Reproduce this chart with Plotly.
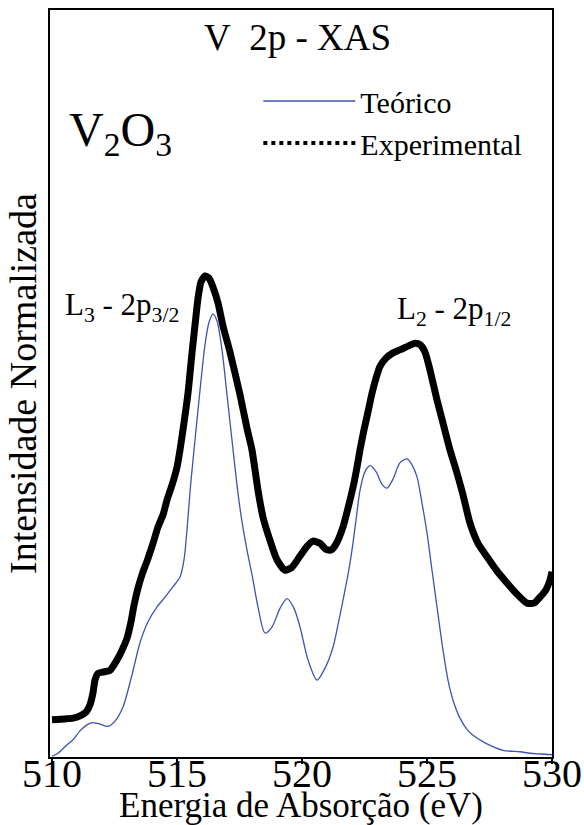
import plotly.graph_objects as go

# Theoretical spectrum (energy in eV, normalized intensity)
teo_energy = [510.00, 510.24, 510.56, 510.84, 511.12, 511.40, 511.60, 511.92, 512.24, 512.52,
              512.84, 513.20, 513.52, 513.84, 514.20, 514.52, 514.84, 515.12, 515.28, 515.40,
              515.52, 515.68, 515.92, 516.12, 516.28, 516.44, 516.60, 516.80, 517.00, 517.20,
              517.44, 517.60, 517.80, 518.00, 518.24, 518.52, 518.80, 519.12, 519.40, 519.68,
              519.92, 520.24, 520.60, 520.92, 521.24, 521.44, 521.64, 521.84, 522.00, 522.16,
              522.32, 522.52, 522.72, 522.96, 523.20, 523.40, 523.64, 523.92, 524.20, 524.40,
              524.60, 524.80, 525.00, 525.20, 525.40, 525.64, 525.84, 526.04, 526.32, 526.60,
              526.84, 527.32, 528.04, 528.72, 529.12, 529.60, 530.00]
teo_intensity = [0.001, 0.005, 0.015, 0.023, 0.035, 0.043, 0.046, 0.044, 0.041, 0.048,
                 0.067, 0.110, 0.153, 0.181, 0.201, 0.214, 0.228, 0.241, 0.264, 0.304,
                 0.355, 0.411, 0.491, 0.552, 0.582, 0.593, 0.584, 0.545, 0.485, 0.424,
                 0.353, 0.315, 0.277, 0.244, 0.201, 0.166, 0.174, 0.199, 0.212, 0.199,
                 0.174, 0.130, 0.103, 0.119, 0.147, 0.177, 0.210, 0.244, 0.277, 0.317,
                 0.357, 0.382, 0.390, 0.382, 0.365, 0.360, 0.372, 0.394, 0.399, 0.391,
                 0.375, 0.340, 0.300, 0.250, 0.201, 0.143, 0.103, 0.076, 0.052, 0.037,
                 0.029, 0.019, 0.009, 0.007, 0.005, 0.004, 0.003]

# Experimental spectrum
exp_energy = [510.00, 510.52, 510.84, 511.12, 511.36, 511.52, 511.64, 511.72, 511.84, 512.08,
              512.32, 512.60, 512.80, 513.00, 513.16, 513.28, 513.44, 513.60, 513.84, 514.04,
              514.24, 514.44, 514.60, 514.80, 515.00, 515.12, 515.24, 515.44, 515.60, 515.72,
              515.84, 515.96, 516.12, 516.28, 516.44, 516.64, 516.84, 517.12, 517.52, 517.80,
              518.00, 518.24, 518.44, 518.72, 519.00, 519.32, 519.60, 519.92, 520.20, 520.44,
              520.72, 520.96, 521.16, 521.36, 521.64, 521.92, 522.08, 522.20, 522.32, 522.48,
              522.64, 522.80, 522.96, 523.12, 523.36, 523.64, 523.92, 524.24, 524.52, 524.72,
              524.92, 525.12, 525.40, 525.64, 525.92, 526.20, 526.44, 526.72, 527.04, 527.40,
              527.80, 528.20, 528.60, 529.00, 529.28, 529.52, 529.76, 529.92, 530.00]
exp_intensity = [0.050, 0.051, 0.052, 0.055, 0.060, 0.070, 0.086, 0.103, 0.112, 0.114,
                 0.116, 0.130, 0.143, 0.159, 0.181, 0.203, 0.226, 0.244, 0.266, 0.286,
                 0.308, 0.324, 0.344, 0.364, 0.388, 0.411, 0.438, 0.487, 0.541, 0.578,
                 0.614, 0.636, 0.644, 0.641, 0.629, 0.608, 0.577, 0.542, 0.485, 0.440,
                 0.411, 0.357, 0.321, 0.290, 0.264, 0.250, 0.254, 0.269, 0.282, 0.289,
                 0.286, 0.278, 0.277, 0.285, 0.308, 0.344, 0.367, 0.388, 0.411, 0.438,
                 0.462, 0.487, 0.507, 0.523, 0.534, 0.541, 0.545, 0.550, 0.554, 0.552,
                 0.542, 0.518, 0.478, 0.447, 0.411, 0.380, 0.351, 0.313, 0.286, 0.268,
                 0.249, 0.233, 0.218, 0.206, 0.206, 0.214, 0.224, 0.237, 0.248]

x_ticks = [510, 515, 520, 525, 530]
x_ticktext = ["510", "515", "520", "525", "530"]

SERIF = "Liberation Serif, Times New Roman, serif"

fig = go.Figure()
fig.add_trace(go.Scatter(x=teo_energy, y=teo_intensity, mode="lines", name="Teórico",
                         line=dict(color="#3f51b5", width=1.3, shape="spline", smoothing=0.8)))
fig.add_trace(go.Scatter(x=exp_energy, y=exp_intensity, mode="lines", name="Experimental",
                         showlegend=False,
                         line=dict(color="black", width=7, shape="spline", smoothing=0.6)))
# legend entry for the experimental data (dotted style as in the reference legend)
fig.add_trace(go.Scatter(x=[None], y=[None], mode="lines", name="Experimental",
                         line=dict(color="black", width=4, dash="dot")))

fig.update_layout(
    width=584, height=825,
    margin=dict(l=50, r=32, t=10, b=68),
    paper_bgcolor="white", plot_bgcolor="white",
    font=dict(family=SERIF, color="black"),
    showlegend=True,
    legend=dict(x=0.415, y=0.913, xanchor="left", yanchor="top",
                bgcolor="rgba(0,0,0,0)", font=dict(size=30, family=SERIF),
                itemwidth=92, tracegroupgap=0),
    xaxis=dict(range=[509.92, 530.0], tickvals=x_ticks, ticktext=x_ticktext,
               automargin=False,
               showline=True, mirror=True, linecolor="black", linewidth=2,
               ticks="outside", ticklen=5, tickwidth=2, tickcolor="black",
               ticklabelstandoff=-25,
               showgrid=False, zeroline=False,
               tickfont=dict(size=40, family=SERIF),
               title=dict(text="Energia de Absorção (eV)", font=dict(size=35, family=SERIF),
                          standoff=40)),
    yaxis=dict(range=[0, 1.0], showticklabels=False, ticks="",
               automargin=False,
               showline=True, mirror=True, linecolor="black", linewidth=2,
               showgrid=False, zeroline=False,
               title=dict(text="Intensidade Normalizada", font=dict(size=38, family=SERIF),
                          standoff=0)),
)

fig.add_annotation(text="V\u00a0\u00a02p - XAS", xref="paper", yref="paper",
                   x=0.494, y=0.963, xanchor="center", yanchor="middle",
                   showarrow=False, font=dict(size=37, family=SERIF))
fig.add_annotation(text="V<sub>2</sub>O<sub>3</sub>", xref="paper", yref="paper",
                   x=0.034, y=0.835, xanchor="left", yanchor="middle",
                   showarrow=False, font=dict(size=48, family=SERIF))
fig.add_annotation(text="L<sub>3</sub> - 2p<sub>3/2</sub>", xref="paper", yref="paper",
                   x=0.026, y=0.602, xanchor="left", yanchor="middle",
                   showarrow=False, font=dict(size=31, family=SERIF))
fig.add_annotation(text="L<sub>2</sub> - 2p<sub>1/2</sub>", xref="paper", yref="paper",
                   x=0.688, y=0.597, xanchor="left", yanchor="middle",
                   showarrow=False, font=dict(size=31, family=SERIF))

fig.write_html("out.html")
